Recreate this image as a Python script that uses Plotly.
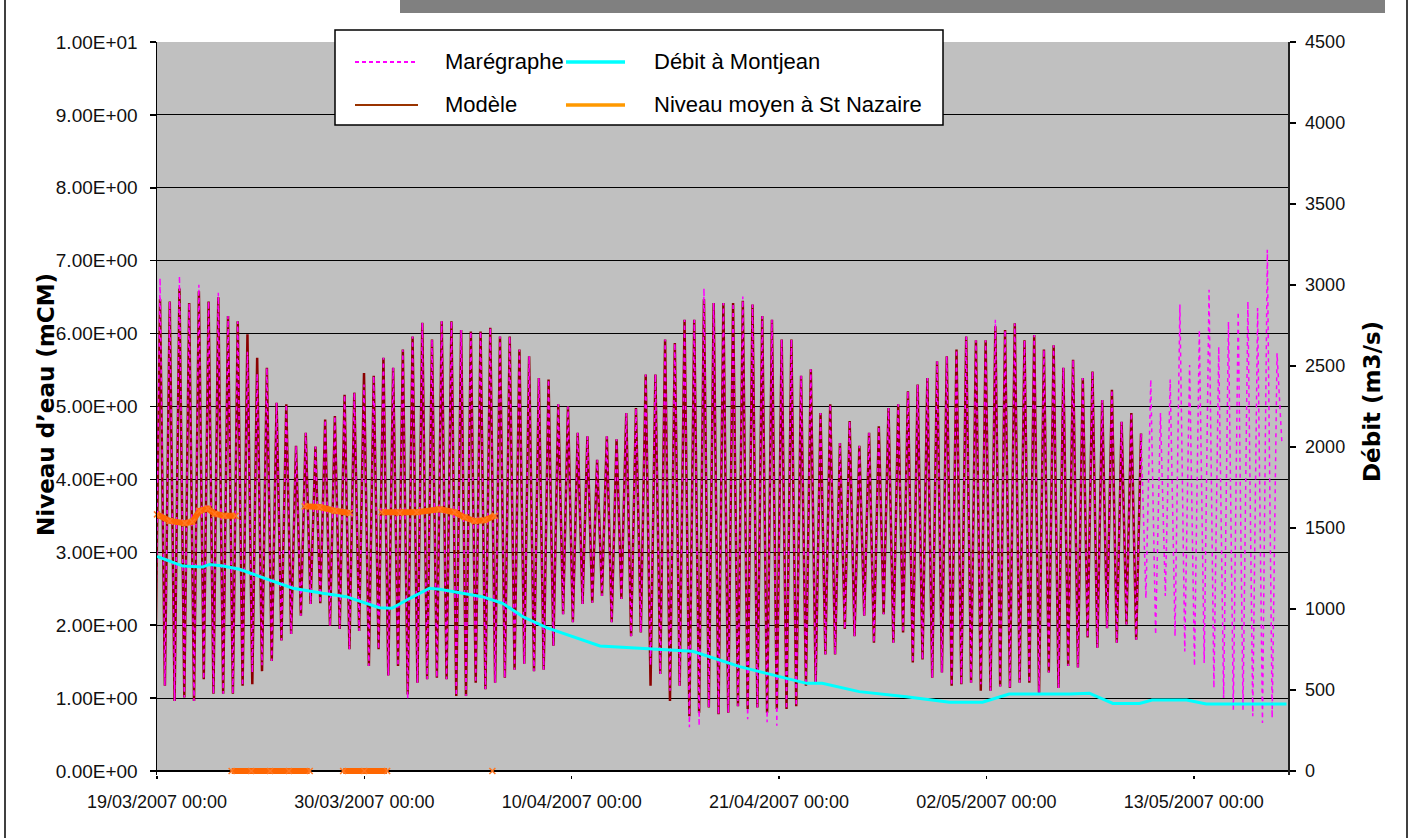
import pandas as pd
import plotly.graph_objects as go

# ---------------- data ----------------
# Marégraphe: successive high-water / low-water levels (mCM)
mar_high = [5.16, 6.76, 6.44, 6.79, 6.42, 6.67, 6.44, 6.56, 6.24, 6.17, 5.75, 5.45, 5.53, 5.05, 5.03,
            4.46, 4.64, 4.45, 4.82, 4.87, 5.16, 5.19, 5.30, 5.42, 5.67, 5.53, 5.78, 5.96, 6.15, 5.92,
            6.17, 6.17, 6.05, 6.03, 6.03, 6.08, 5.96, 5.96, 5.78, 5.69, 5.39, 5.37,
            5.03, 5.00, 4.64, 4.59, 4.27, 4.59, 4.55, 4.91, 4.98, 5.44, 5.44, 5.92, 5.87, 6.19, 6.19,
            6.62, 6.42, 6.42, 6.42, 6.51, 6.40, 6.24, 6.19, 5.92, 5.92, 5.42, 5.51, 4.91, 5.03, 4.50,
            4.80, 4.46, 4.64, 4.73, 4.98, 5.03, 5.21, 5.30, 5.39, 5.62, 5.69, 5.78,
            5.96, 5.91, 5.91, 6.19, 6.05, 6.14, 5.91, 5.98, 5.78, 5.84, 5.53, 5.64, 5.39, 5.48, 5.09,
            5.23, 4.79, 4.91, 4.63, 5.37, 4.91, 5.37, 6.40, 5.57, 6.05, 6.60, 5.82, 6.16, 6.30, 6.44,
            6.35, 7.15, 5.73]
mar_low = [1.21, 1.17, 0.96, 1.01, 0.96, 1.26, 1.06, 1.06, 1.06, 1.17, 1.35, 1.45, 1.51, 1.79, 1.88,
           2.13, 2.29, 2.30, 1.99, 1.95, 1.67, 1.92, 1.44, 1.67, 1.31, 1.44, 0.99, 1.21, 1.26, 1.28,
           1.26, 1.03, 1.03, 1.21, 1.12, 1.21, 1.28, 1.39, 1.47, 1.37, 1.39,
           1.72, 2.15, 2.04, 2.29, 2.31, 2.40, 2.04, 2.36, 1.85, 1.90, 1.45, 1.33, 1.10, 1.17, 0.60,
           0.62, 0.87, 0.78, 0.80, 0.89, 0.71, 0.87, 0.67, 0.62, 0.85, 0.89, 1.17, 1.21, 1.60, 1.60,
           1.95, 1.85, 2.13, 1.76, 2.15, 1.76, 1.90, 1.49, 1.53, 1.28, 1.35, 1.17,
           1.19, 1.21, 1.19, 1.10, 1.16, 1.14, 1.21, 1.21, 1.07, 1.35, 1.14, 1.44, 1.42, 1.83, 1.69,
           1.96, 1.76, 2.01, 1.80, 2.37, 1.87, 2.40, 1.85, 1.64, 1.44, 1.48, 1.14, 1.00, 0.84, 0.84,
           0.75, 0.66, 0.73]
mar_last = 4.50

# Modèle: successive high-water / low-water levels (mCM)
mod_high = [5.16, 6.47, 6.44, 6.62, 6.42, 6.58, 6.44, 6.50, 6.24, 6.17, 5.99, 5.67, 5.53, 5.05, 5.03,
            4.46, 4.64, 4.45, 4.82, 4.87, 5.16, 5.19, 5.46, 5.42, 5.67, 5.53, 5.78, 5.96, 6.15, 5.92,
            6.17, 6.17, 6.05, 6.03, 6.03, 6.08, 5.96, 5.96, 5.78, 5.69, 5.39, 5.37,
            5.03, 5.00, 4.64, 4.59, 4.27, 4.59, 4.55, 4.91, 4.98, 5.44, 5.44, 5.92, 5.87, 6.19, 6.19,
            6.47, 6.42, 6.42, 6.42, 6.45, 6.40, 6.24, 6.19, 5.92, 5.92, 5.42, 5.51, 4.91, 5.03, 4.50,
            4.80, 4.46, 4.64, 4.73, 4.98, 5.03, 5.21, 5.30, 5.39, 5.62, 5.69, 5.78,
            5.96, 5.91, 5.91, 6.10, 6.05, 6.14, 5.91, 5.98, 5.78, 5.84, 5.53, 5.64, 5.39, 5.48, 5.09,
            5.23, 4.79, 4.91, 4.63]
mod_low = [1.21, 1.17, 0.96, 1.01, 0.96, 1.26, 1.06, 1.06, 1.06, 1.17, 1.19, 1.37, 1.51, 1.79, 1.88,
           2.13, 2.29, 2.30, 1.99, 1.95, 1.67, 1.92, 1.44, 1.67, 1.31, 1.44, 1.05, 1.21, 1.26, 1.28,
           1.26, 1.03, 1.03, 1.21, 1.12, 1.21, 1.28, 1.39, 1.47, 1.37, 1.39,
           1.72, 2.15, 2.04, 2.29, 2.31, 2.40, 2.04, 2.36, 1.85, 1.90, 1.17, 1.33, 0.96, 1.17, 0.75,
           0.80, 0.87, 0.78, 0.80, 0.89, 0.85, 0.87, 0.80, 0.85, 0.85, 0.89, 1.17, 1.21, 1.60, 1.60,
           1.95, 1.85, 2.13, 1.76, 2.15, 1.76, 1.90, 1.49, 1.53, 1.28, 1.35, 1.17,
           1.19, 1.21, 1.10, 1.10, 1.16, 1.14, 1.21, 1.21, 1.07, 1.35, 1.14, 1.44, 1.42, 1.83, 1.69,
           1.96, 1.76, 2.01, 1.80]

tide_start = "2007-03-18 15:30"
tide_step = "371min"

# Débit à Montjean (m3/s)
debit_dates = ["2007-03-19 00:00", "2007-03-20 09:00", "2007-03-21 10:00", "2007-03-21 19:00",
               "2007-03-22 12:00", "2007-03-23 09:00", "2007-03-24 11:00", "2007-03-26 05:00",
               "2007-03-27 19:00", "2007-03-29 01:00", "2007-03-30 19:00", "2007-03-31 11:00",
               "2007-04-01 10:00", "2007-04-02 11:00", "2007-04-03 00:00", "2007-04-05 06:00",
               "2007-04-06 08:00", "2007-04-07 10:00", "2007-04-08 16:00", "2007-04-11 12:00",
               "2007-04-16 10:00", "2007-04-18 22:00", "2007-04-22 11:00", "2007-04-23 07:00",
               "2007-04-25 06:00", "2007-04-27 18:00", "2007-04-30 01:00", "2007-05-01 19:00",
               "2007-05-03 05:00", "2007-05-06 10:00", "2007-05-07 11:00", "2007-05-08 17:00",
               "2007-05-10 03:00", "2007-05-10 19:00", "2007-05-12 15:00", "2007-05-13 16:00",
               "2007-05-17 22:00"]
debit_values = [1325, 1265, 1260, 1275, 1265, 1245, 1200, 1128, 1097, 1076, 1008, 1004, 1066, 1128,
                1122, 1076, 1035, 952, 885, 772, 739, 644, 541, 541, 490, 459, 425, 425, 475, 475,
                480, 417, 417, 438, 438, 413, 413]

# Niveau moyen à St Nazaire (mCM); None = no data
niveau_dates = ["2007-03-19 00:00", "2007-03-19 16:00", "2007-03-20 11:30", "2007-03-20 21:00",
                "2007-03-21 06:00", "2007-03-21 16:30", "2007-03-22 01:30", "2007-03-22 14:00",
                "2007-03-23 04:00", None,
                "2007-03-22 23:00", "2007-03-24 00:00", "2007-03-25 00:00", "2007-03-26 00:00",
                "2007-03-27 02:30", None,
                "2007-03-26 20:00", "2007-03-27 15:00", "2007-03-28 10:20", "2007-03-29 05:30", None,
                "2007-03-28 21:00", "2007-03-30 00:00", "2007-03-31 05:00", None,
                "2007-03-30 22:00", "2007-03-31 21:00", "2007-04-01 18:30", "2007-04-03 00:00",
                "2007-04-03 19:00", "2007-04-04 07:40", "2007-04-04 20:20", "2007-04-05 09:00",
                "2007-04-05 22:00", None,
                "2007-04-05 19:00"]
niveau_values = [3.52, 3.43, 3.40, 3.42, 3.57, 3.60, 3.53, 3.50, 3.50, None,
                 0, 0, 0, 0, 0, None,
                 3.63, 3.62, 3.57, 3.54, None,
                 0, 0, 0, None,
                 3.55, 3.54, 3.55, 3.59, 3.55, 3.48, 3.43, 3.44, 3.50, None,
                 0]

# axes
y_tickvals = [0, 1, 2, 3, 4, 5, 6, 7, 8, 9, 10]
y_ticktext = ["0.00E+00", "1.00E+00", "2.00E+00", "3.00E+00", "4.00E+00", "5.00E+00",
              "6.00E+00", "7.00E+00", "8.00E+00", "9.00E+00", "1.00E+01"]
y2_tickvals = [0, 500, 1000, 1500, 2000, 2500, 3000, 3500, 4000, 4500]
x_tickvals = ["2007-03-19", "2007-03-30", "2007-04-10", "2007-04-21", "2007-05-02", "2007-05-13"]
x_ticktext = ["19/03/2007 00:00", "30/03/2007 00:00", "10/04/2007 00:00", "21/04/2007 00:00",
              "02/05/2007 00:00", "13/05/2007 00:00"]
x_range = ["2007-03-19 00:00", "2007-05-18 00:00"]
y_max, y2_max = 10, 4500

legend_names = ["Marégraphe", "Modèle", "Débit à Montjean", "Niveau moyen à St Nazaire"]

# ---------------- build series ----------------
def interleave(highs, lows, last=None):
    out = []
    for i, h in enumerate(highs):
        out.append(h)
        if i < len(lows):
            out.append(lows[i])
    if last is not None:
        out.append(last)
    return out

mar_y = interleave(mar_high, mar_low, mar_last)
mod_y = interleave(mod_high, mod_low)
t_all = pd.date_range(tide_start, periods=len(mar_y), freq=tide_step)
mar_x = list(t_all)
mod_x = list(t_all[:len(mod_y)])

# ---------------- geometry (pixels) ----------------
W, H = 1414, 838
L, R, T = 157, 1288, 42
Y0 = 771          # pixel of value 0 (x axis line)
EXT = 4           # plot area extends a few px below 0 so thick lines at 0 are not clipped
B = Y0 + EXT
unit = (Y0 - T) / y_max
y_lo = -EXT / unit
y2_lo = y_lo * y2_max / y_max
FONT = "Liberation Sans, Arial, sans-serif"


def px(xp):
    return (xp - L) / (R - L)


def py(yp):
    return (B - yp) / (B - T)


fig = go.Figure()
fig.add_trace(go.Scatter(x=mod_x, y=mod_y, mode="lines", name=legend_names[1],
                         line=dict(color="#8B0000", width=2.5), showlegend=False))
fig.add_trace(go.Scatter(x=mar_x, y=mar_y, mode="lines", name=legend_names[0],
                         line=dict(color="#FF00FF", width=1.5, dash="4px,4px"), showlegend=False))
fig.add_trace(go.Scatter(x=niveau_dates, y=niveau_values, mode="lines+markers", name=legend_names[3],
                         line=dict(color="#FF6600", width=6),
                         marker=dict(symbol="x-thin", size=6, line=dict(color="#FF7722", width=1.5)),
                         cliponaxis=False, connectgaps=False, showlegend=False))
fig.add_trace(go.Scatter(x=debit_dates, y=debit_values, mode="lines", name=legend_names[2],
                         line=dict(color="#00FFFF", width=3), yaxis="y2", showlegend=False))

shapes = []
annotations = []

# white strip under the zero line (below traces, above plot background)
shapes.append(dict(type="rect", xref="paper", yref="paper", x0=0, x1=1, y0=0, y1=py(Y0 + 0.5),
                   fillcolor="white", line=dict(width=0), layer="below"))

# outer frame and header bar
shapes.append(dict(type="line", xref="paper", yref="paper", x0=px(5), x1=px(5), y0=py(0), y1=py(H),
                   line=dict(color="black", width=1.5)))
shapes.append(dict(type="line", xref="paper", yref="paper", x0=px(1407), x1=px(1407), y0=py(0), y1=py(H),
                   line=dict(color="black", width=1.5)))
shapes.append(dict(type="rect", xref="paper", yref="paper", x0=px(400), x1=px(1385), y0=py(13), y1=py(0),
                   fillcolor="#808080", line=dict(width=0)))

# legend box
shapes.append(dict(type="rect", xref="paper", yref="paper", x0=px(335), x1=px(943), y0=py(125), y1=py(30),
                   fillcolor="white", line=dict(color="black", width=1.5), layer="above"))
leg_items = [
    (legend_names[0], 355, 415, 62, dict(color="#FF00FF", width=2, dash="4px,3px"), 443),
    (legend_names[1], 355, 418, 105, dict(color="#993300", width=2), 443),
    (legend_names[2], 566, 625, 62, dict(color="#00FFFF", width=3.5), 652),
    (legend_names[3], 566, 625, 105, dict(color="#FF9900", width=3.5), 652),
]
for name, x0, x1, yy, ln, xt in leg_items:
    shapes.append(dict(type="line", xref="paper", yref="paper", x0=px(x0), x1=px(x1), y0=py(yy), y1=py(yy),
                       line=ln, layer="above"))
    annotations.append(dict(xref="paper", yref="paper", x=px(xt), y=py(yy), text=name, showarrow=False,
                            xanchor="left", yanchor="middle", font=dict(family=FONT, size=22, color="black")))

# axis titles
annotations.append(dict(xref="paper", yref="paper", x=px(46), y=py(405), text="<b>Niveau d’eau (mCM)</b>",
                        showarrow=False, textangle=-90, xanchor="center", yanchor="middle",
                        font=dict(family="DejaVu Sans, sans-serif", size=23, color="black")))
annotations.append(dict(xref="paper", yref="paper", x=px(1372), y=py(402), text="<b>Débit (m3/s)</b>",
                        showarrow=False, textangle=-90, xanchor="center", yanchor="middle",
                        font=dict(family="DejaVu Sans, sans-serif", size=23, color="black")))

fig.update_layout(
    width=W, height=H, autosize=False,
    margin=dict(l=L, r=W - R, t=T, b=H - B, pad=0),
    paper_bgcolor="white", plot_bgcolor="#C0C0C0",
    font=dict(family=FONT, size=18, color="black"),
    showlegend=False, hovermode=False,
    shapes=shapes, annotations=annotations,
    xaxis=dict(type="date", range=x_range, tickvals=x_tickvals, ticktext=x_ticktext,
               showgrid=False, zeroline=False, showline=False,
               ticks="outside", ticklen=3, tickcolor="black", tickwidth=1.5, ticklabelstandoff=7,
               tickfont=dict(family=FONT, size=18, color="#111111")),
    yaxis=dict(range=[y_lo, y_max], tickvals=y_tickvals, ticktext=y_ticktext,
               showgrid=True, gridcolor="black", gridwidth=1,
               zeroline=True, zerolinecolor="black", zerolinewidth=1.5,
               showline=True, linecolor="black", linewidth=1.5,
               ticks="outside", ticklen=6, tickcolor="black", tickwidth=1.5, ticklabelstandoff=8,
               tickfont=dict(family=FONT, size=19, color="#111111")),
    yaxis2=dict(range=[y2_lo, y2_max], tickvals=y2_tickvals, tickformat="d", overlaying="y", side="right",
                showgrid=False, zeroline=False, showline=True, linecolor="#222222", linewidth=1.5,
                ticks="outside", ticklen=6, tickcolor="black", tickwidth=1.5, ticklabelstandoff=6,
                tickfont=dict(family=FONT, size=18, color="#111111")),
)

fig.write_html("out.html", config={"displayModeBar": False, "staticPlot": True},
               post_script="document.body.style.margin='0';document.body.style.overflow='hidden';")
